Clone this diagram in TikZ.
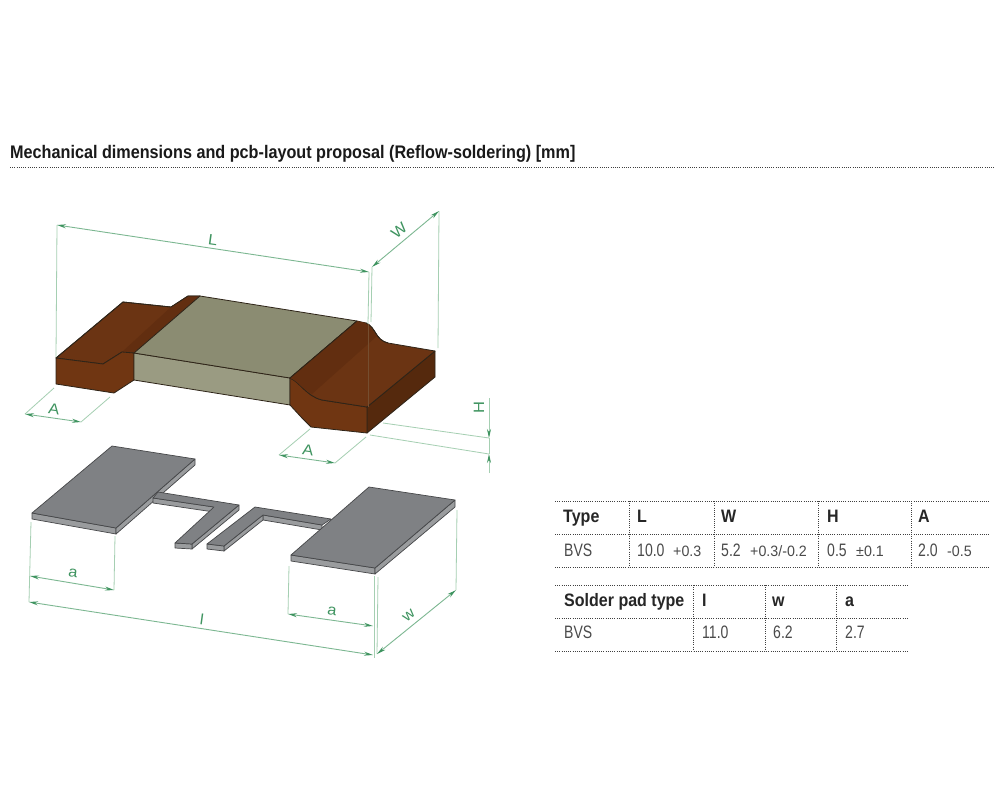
\documentclass[tikz,border=0pt]{standalone}
\usepackage{fontspec}
\usetikzlibrary{arrows.meta}
\setmainfont{Liberation Sans}
\newfontfamily\cond[FakeStretch=0.78]{Liberation Sans}
\newfontfamily\condb[FakeStretch=0.89]{Liberation Sans}
\newfontfamily\tolf[FakeStretch=0.95]{Liberation Sans}
\newfontfamily\dimfont[FakeStretch=1.1]{Liberation Sans}
\definecolor{brownT}{HTML}{6B3413}
\definecolor{brownD}{HTML}{622E10}
\definecolor{brownF}{HTML}{703612}
\definecolor{brownS}{HTML}{55290D}
\definecolor{bodyT}{HTML}{8B8C72}
\definecolor{bodyF}{HTML}{9A9B82}
\definecolor{padT}{HTML}{7F8184}
\definecolor{padS}{HTML}{9A9C9E}
\definecolor{edge}{HTML}{2E2418}
\definecolor{dimL}{HTML}{A5CFB2}
\definecolor{dimA}{HTML}{3F9460}
\definecolor{txt}{HTML}{4A4A4A}
\tikzset{
  ln/.style={draw=edge,line width=.8pt,line join=round},
  pad/.style={draw=padT!55!black,line width=.7pt,line join=round},
  ext/.style={draw=dimL,line width=.8pt},
  tipA/.tip={Stealth[length=9pt,width=4pt,color=dimA]},
  dimline/.style={draw=dimL!60!dimA,line width=.9pt,tipA-tipA},
  dimtxt/.style={text=dimA,font=\dimfont\fontsize{15}{15}\selectfont,inner sep=0pt},
  dots/.style={draw=black!75,line width=.9pt,dash pattern=on .9pt off 1.3pt},
  hd/.style={anchor=base west,inner sep=0pt,text=black!85,font=\condb\bfseries\fontsize{18}{18}\selectfont},
  val/.style={anchor=base west,inner sep=0pt,text=txt,font=\cond\fontsize{18}{18}\selectfont},
  tol/.style={anchor=base west,inner sep=0pt,text=txt,font=\tolf\fontsize{15}{15}\selectfont},
}
\begin{document}
\begin{tikzpicture}[x=1pt,y=-1pt]
\useasboundingbox (0,0) rectangle (1000,800);
\fill[white] (0,0) rectangle (1000,800);
% title
\node[anchor=base west,inner sep=0pt,text=black!90,font=\condb\bfseries\fontsize{18.2}{18}\selectfont] (title) at (10,158) {Mechanical dimensions and pcb-layout proposal (Reflow-soldering) [mm]};
\coordinate (tl) at (10,167); \coordinate (tr) at (995,167);
\draw[dots] (tl) -- (tr);

% left terminal
\filldraw[ln,fill=brownT] (56,358) -- (123,302) -- (171,307) -- (188,296) -- (200,296) -- (134,353) -- (122,352) -- (103,364) -- cycle;
\fill[brownD] (171,307) -- (188,296) -- (200,296) -- (134,353) -- (122,352) -- cycle;
\draw[ln] (56,358) -- (123,302) -- (171,307) -- (188,296) -- (200,296);
\filldraw[ln,fill=brownF] (56,358) -- (103,364) -- (122,352) -- (134,353) -- (134,380) -- (114,393) -- (56,384) -- cycle;
% body
\filldraw[ln,fill=bodyF] (134,353) -- (290,378) -- (290,405) -- (134,380) -- cycle;
\filldraw[ln,fill=bodyT] (200,296) -- (357,321) -- (290,378) -- (134,353) -- cycle;
% right terminal
\filldraw[ln,fill=brownS] (367,407) -- (435,351) -- (435,377) -- (367,433) -- cycle;
\filldraw[ln,fill=brownF] (290,378) .. controls (300,382) and (306,396) .. (322,400) -- (367,407) -- (367,433) -- (311,427) -- (302,418) -- (290,405) -- cycle;
\filldraw[ln,fill=brownT] (357,321) -- (366,323) .. controls (376,327) and (375,340) .. (388,343) -- (435,351) -- (367,407) -- (322,400) .. controls (306,396) and (300,382) .. (290,378) -- cycle;
\fill[brownD] (357,321) -- (366,323) .. controls (372,326) and (373,332) .. (377,336) -- (312,394) .. controls (303,390) and (298,381) .. (290,378) -- cycle;
\draw[ln] (357,321) -- (290,378);
\draw[ln] (366,323) .. controls (376,327) and (375,340) .. (388,343);

% pads
\filldraw[pad,fill=padS] (32,513) -- (116,528) -- (116,534) -- (32,519) -- cycle;
\filldraw[pad,fill=padS] (116,528) -- (195,459) -- (195,465) -- (116,534) -- cycle;
\filldraw[pad,fill=padS] (153,498) -- (214,507) -- (214,512) -- (153,503) -- cycle;
\filldraw[pad,fill=padS] (239,505) -- (239,510) -- (192,549) -- (192,544) -- cycle;
\filldraw[pad,fill=padS] (175,543) -- (192,544) -- (192,549) -- (175,548) -- cycle;
\filldraw[pad,fill=padT] (158,492) -- (239,505) -- (192,544) -- (175,543) -- (214,507) -- (153,498) -- cycle;
\filldraw[pad,fill=padT] (112,446) -- (195,459) -- (116,528) -- (32,513) -- cycle;
%
\filldraw[pad,fill=padS] (263,515) -- (322,525) -- (322,530) -- (263,520) -- cycle;
\filldraw[pad,fill=padS] (263,515) -- (263,520) -- (224,551) -- (224,546) -- cycle;
\filldraw[pad,fill=padS] (207,544) -- (224,546) -- (224,551) -- (207,549) -- cycle;
\filldraw[pad,fill=padT] (255,507) -- (331,519) -- (322,525) -- (263,515) -- (224,546) -- (207,544) -- cycle;
\filldraw[pad,fill=padS] (291,555) -- (375,568) -- (375,574) -- (291,561) -- cycle;
\filldraw[pad,fill=padS] (375,568) -- (455,500) -- (455,507) -- (375,574) -- cycle;
\filldraw[pad,fill=padT] (369,487) -- (455,500) -- (375,568) -- (291,555) -- cycle;

% dimension anchors
\coordinate (Ll) at (57,225); \coordinate (Lr) at (369,272);
\coordinate (Lle) at (56,357); \coordinate (Lrm) at (368,324); \coordinate (Lre) at (368,407);
\coordinate (Wa) at (372,267); \coordinate (Wb) at (439,211);
\coordinate (Wae) at (371,322); \coordinate (Wbe) at (438,348);
\coordinate (A1a) at (25,414); \coordinate (A1b) at (81,422);
\coordinate (A1ae) at (54,388); \coordinate (A1be) at (110,397);
\coordinate (A2a) at (279,455); \coordinate (A2b) at (335,463);
\coordinate (A2ae) at (310,429); \coordinate (A2be) at (366,437);
\coordinate (Ha) at (489,438); \coordinate (Hb) at (489,454);
\coordinate (Hat) at (489,398); \coordinate (Hbt) at (489,473);
\coordinate (Hae) at (383,423); \coordinate (Hbe) at (370,435);
\coordinate (a1a) at (30,576); \coordinate (a1b) at (114,590);
\coordinate (a1ae) at (31,522); \coordinate (a1be) at (115,536);
\coordinate (la) at (29,602); \coordinate (lb) at (373,655);
\coordinate (a2a) at (288,614); \coordinate (a2b) at (373,626);
\coordinate (a2ae) at (289,566); \coordinate (a2be) at (374,576);
\coordinate (lbe) at (374,658);
\coordinate (wa) at (377,654); \coordinate (wb) at (456,590);
\coordinate (wae) at (378,577); \coordinate (wbe) at (457,510);

\draw[ext] (Ll) -- (Lle); \draw[ext] (Lr) -- (Lrm);
\draw[draw=brownT!70!bodyT,line width=.8pt] (Lrm) -- (Lre);
\draw[ext] (Wa) -- (Wae); \draw[ext] (Wb) -- (Wbe);
\draw[ext] (A1a) -- (A1ae); \draw[ext] (A1b) -- (A1be);
\draw[ext] (A2a) -- (A2ae); \draw[ext] (A2b) -- (A2be);
\draw[ext] (Ha) -- (Hae); \draw[ext] (Hb) -- (Hbe);
\draw[ext] (Ha) -- (Hb);
\draw[ext] (a1ae) -- (la); \draw[ext] (a1be) -- (a1b);
\draw[ext] (a2ae) -- (a2a); \draw[ext] (a2be) -- (lbe);
\draw[ext] (wae) -- (wa); \draw[ext] (wbe) -- (wb);
\draw[dimline] (Ll) -- (Lr);
\draw[dimline] (Wa) -- (Wb);
\draw[dimline] (A1a) -- (A1b);
\draw[dimline] (A2a) -- (A2b);
\draw[dimline] (a1a) -- (a1b);
\draw[dimline] (la) -- (lb);
\draw[dimline] (a2a) -- (a2b);
\draw[dimline] (wa) -- (wb);
\draw[ext,-tipA] (Hat) -- (Ha);
\draw[ext,-tipA] (Hbt) -- (Hb);
\node[dimtxt,rotate=-8] (tL) at (213,240) {L};
\node[dimtxt,rotate=40] (tW) at (399,231) {W};
\node[dimtxt,rotate=-8] (tA1) at (54,409) {A};
\node[dimtxt,rotate=-8] (tA2) at (308,450) {A};
\node[dimtxt,rotate=90] (tH) at (479,408) {H};
\node[dimtxt,rotate=-8] (ta1) at (73,573) {a};
\node[dimtxt,rotate=-8] (tl1) at (202,619) {l};
\node[dimtxt,rotate=-8] (ta2) at (332,611) {a};
\node[dimtxt,rotate=40] (tw) at (409,616) {w};

% table 1
\foreach \n/\y in {a/501,b/534,c/567}{
  \coordinate (T\n l) at (555,\y); \coordinate (T\n r) at (990,\y);
  \draw[dots] (T\n l) -- (T\n r);}
\foreach \n/\x in {1/629,2/714,3/818,4/911}{
  \coordinate (V\n t) at (\x,501); \coordinate (V\n b) at (\x,567);
  \draw[dots] (V\n t) -- (V\n b);}
\node[hd] (h1) at (563,522) {Type};
\node[hd] (h2) at (637,522) {L};
\node[hd] (h3) at (721,522) {W};
\node[hd] (h4) at (827,522) {H};
\node[hd] (h5) at (918,522) {A};
\node[val] (v1) at (564,556) {BVS};
\node[val] (v2) at (637,556) {10.0};
\node[tol] (t2) at (673,556) {+0.3};
\node[val] (v3) at (721,556) {5.2};
\node[tol] (t3) at (750,556) {+0.3/-0.2};
\node[val] (v4) at (827,556) {0.5};
\node[tol] (t4) at (856,556) {±0.1};
\node[val] (v5) at (918,556) {2.0};
\node[tol] (t5) at (947,556) {-0.5};
% table 2
\foreach \n/\y in {a/585,b/618,c/651}{
  \coordinate (S\n l) at (555,\y); \coordinate (S\n r) at (909,\y);
  \draw[dots] (S\n l) -- (S\n r);}
\foreach \n/\x in {1/693,2/765,3/836}{
  \coordinate (U\n t) at (\x,585); \coordinate (U\n b) at (\x,651);
  \draw[dots] (U\n t) -- (U\n b);}
\node[hd] (s1) at (564,606) {Solder pad type};
\node[hd] (s2) at (702,606) {I};
\node[hd] (s3) at (772,606) {w};
\node[hd] (s4) at (845,606) {a};
\node[val] (r1) at (564,638) {BVS};
\node[val] (r2) at (702,638) {11.0};
\node[val] (r3) at (773,638) {6.2};
\node[val] (r4) at (845,638) {2.7};
\end{tikzpicture}
\end{document}
